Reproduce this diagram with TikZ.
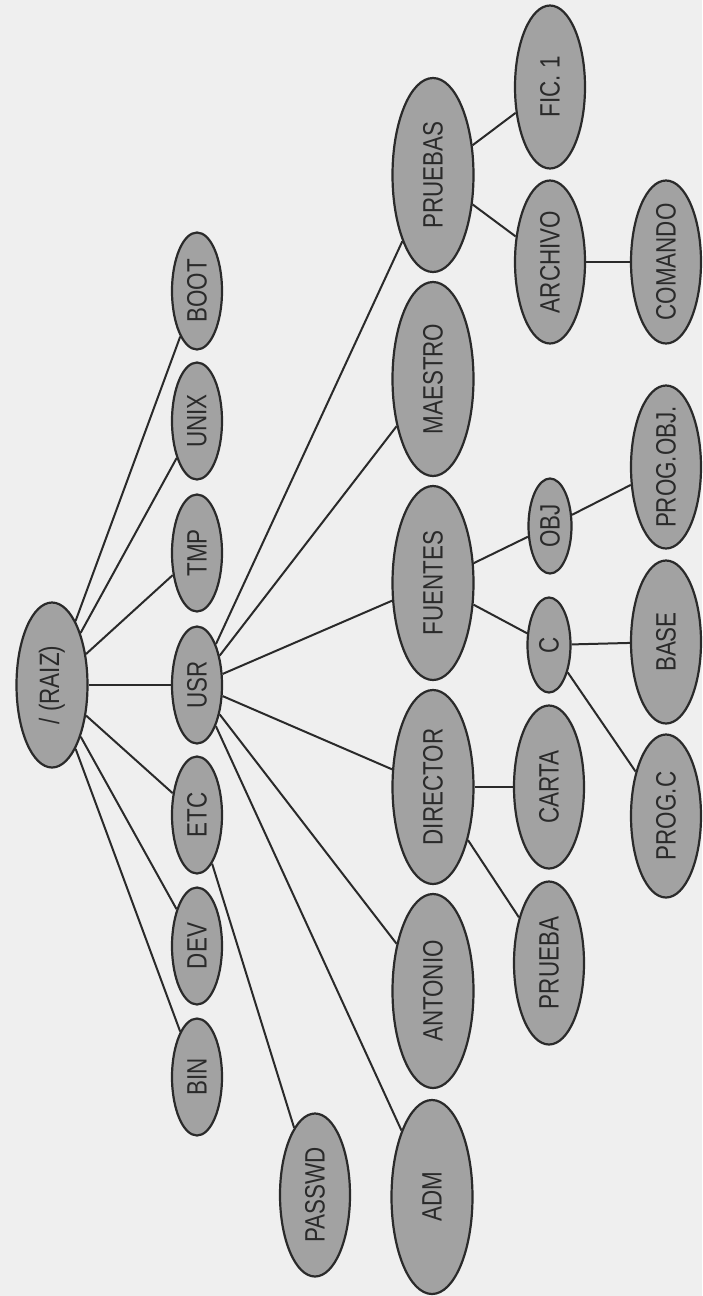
\documentclass[tikz,border=0pt]{standalone}
\usepackage{fontspec}
\newfontfamily\labelfont{Liberation Sans}[FakeStretch=0.8]
\usepackage{xcolor}
\definecolor{paper}{HTML}{EFEFEF}
\definecolor{nodegray}{HTML}{A2A2A2}
\definecolor{ink}{HTML}{2A2A2A}
\usepackage{tikz}
\usetikzlibrary{shapes.geometric}
\newcommand{\nodefont}{\labelfont\fontsize{28}{30}\selectfont}
\tikzset{
    carpeta/.style = {ellipse, draw=ink, fill=nodegray, line width=2.2pt,
                      rotate=90, inner xsep=-12pt, inner ysep=0pt,
                      text=ink, font=\nodefont},
    raizbox/.style = {carpeta, minimum width=165pt, minimum height=71pt},
    sistema/.style = {carpeta, minimum width=117pt, minimum height=50pt},
    usuario/.style = {carpeta, minimum width=194pt, minimum height=81pt},
    fichero/.style = {carpeta, minimum width=163pt, minimum height=70pt},
    chico/.style   = {carpeta, minimum width=95pt, minimum height=43pt},
    link/.style    = {line width=2pt, draw=ink},
}

\begin{document}
\begin{tikzpicture}[x=1pt, y=-1pt]
        % paper
        \fill[paper] (0,0) rectangle (702,1296);
        \useasboundingbox (0,0) rectangle (702,1296);
        % root
        \node[raizbox] (raiz) at (52,685) {/ (RAIZ)};
        % first level
        \node[sistema] (bin)  at (197,1077) {BIN};
        \node[sistema] (dev)  at (197,946)  {DEV};
        \node[sistema] (etc)  at (197,815)  {ETC};
        \node[sistema] (usr)  at (197,685)  {USR};
        \node[sistema] (tmp)  at (197,553)  {TMP};
        \node[sistema] (unix) at (197,421)  {UNIX};
        \node[sistema] (boot) at (197,291)  {BOOT};
        % second level
        \node[fichero] (passwd) at (315,1195) {PASSWD};
        \node[usuario] (adm)      at (432,1197) {ADM};
        \node[usuario] (antonio)  at (433,991)  {ANTONIO};
        \node[usuario] (director) at (433,787)  {DIRECTOR};
        \node[usuario] (fuentes)  at (433,583)  {FUENTES};
        \node[usuario] (maestro)  at (433,379)  {MAESTRO};
        \node[usuario] (pruebas)  at (433,175)  {PRUEBAS};
        % third level
        \node[fichero] (prueba)  at (549,963) {PRUEBA};
        \node[fichero] (carta)   at (549,787) {CARTA};
        \node[chico]   (c)       at (549,645) {C};
        \node[chico]   (obj)     at (550,526) {OBJ};
        \node[fichero] (archivo) at (550,262) {ARCHIVO};
        \node[fichero] (fic)     at (550,87)  {FIC. 1};
        % fourth level
        \node[fichero] (progc)   at (666,816) {PROG.C};
        \node[fichero] (base)    at (666,642) {BASE};
        \node[fichero] (progobj) at (666,467) {PROG.OBJ.};
        \node[fichero] (comando) at (666,262) {COMANDO};
        % links
        \foreach \hijo in {bin,dev,etc,usr,tmp,unix,boot}
            \draw[link] (raiz) -- (\hijo);
        \draw[link] (etc) -- (passwd);
        \foreach \hijo in {adm,antonio,director,fuentes,maestro,pruebas}
            \draw[link] (usr) -- (\hijo);
        \draw[link] (director) -- (prueba);
        \draw[link] (director) -- (carta);
        \draw[link] (fuentes) -- (c);
        \draw[link] (fuentes) -- (obj);
        \draw[link] (c) -- (progc);
        \draw[link] (c) -- (base);
        \draw[link] (obj) -- (progobj);
        \draw[link] (pruebas) -- (archivo);
        \draw[link] (pruebas) -- (fic);
        \draw[link] (archivo) -- (comando);
\end{tikzpicture}
\end{document}
